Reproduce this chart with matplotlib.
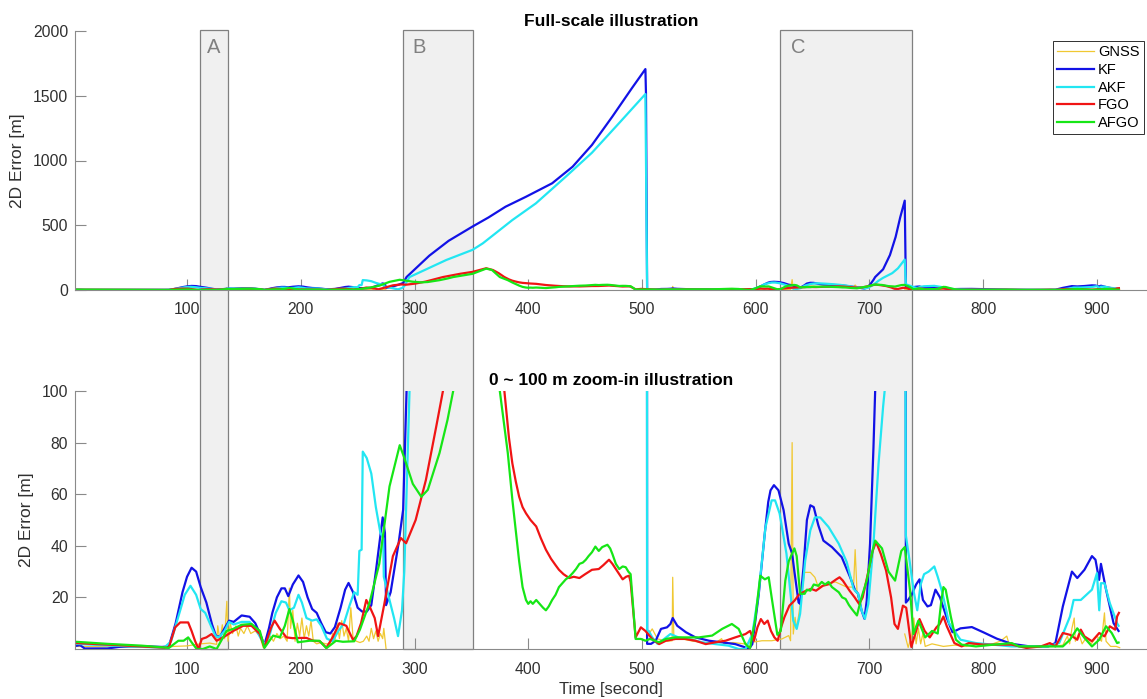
import numpy as np
import matplotlib
matplotlib.use('Agg')
import matplotlib.pyplot as plt
from matplotlib.patches import Rectangle
from matplotlib import transforms

plt.rcParams['font.family'] = ['Liberation Sans', 'DejaVu Sans']

nan = np.nan

# (time [s], 2D error [m])
gnss = [(2, 1), (40, 0.8), (80, 0.6), (88, 1), (100, 1.2), (112, 2), (120, 2.3), (126, 1.8),
        (127, 9), (129, 3), (131, 9.4), (133, 4), (135, 18.5), (136, 3), (138, 10), (140, 6),
        (143, 9), (145, 5), (147, 8), (150, 6), (153, 9), (156, 6), (160, 7), (164, 5),
        (167, 0.5), (170, 3), (173, 5), (176, 3), (179, 6), (182, 4), (185, 5), (188, 3),
        (190, 23.6), (191, 8), (193, 15), (195, 3), (197, 10), (199, 5), (201, 12), (203, 4),
        (205, 9), (207, 5), (209, 11), (211, 3), (214, 2), (218, 2.5), (222, 2), (226, 2),
        (228, 6), (230, 3), (232, 10), (234, 4), (236, 11), (238, 5), (240, 8), (242, 3),
        (244, 16), (246, 4), (249, 3), (252, 2.5), (255, 3), (258, 5), (260, 3), (262, 8),
        (264, 4), (266, 7), (268, 3), (270, 6), (272, 4), (273, 8), (275, 0), (276, nan),
        (504, 5), (506, 5.8), (509, 7.8), (513.6, 3.9), (518, 3.5), (522, 3), (526.5, 3.2),
        (527, 27.8), (528, 3.9), (535.5, 3.9), (545, 3), (555, 2.5), (565, 2.5), (570, 4),
        (572, 2), (580, 2.5), (590, 2), (596.8, 2.6), (605.5, 3.2), (614, 3.2), (623, 3.9),
        (629, 5.2), (630.6, 3.2), (632, 80), (633, 5.8), (634.6, 12.3), (636, 7.8), (640, 20),
        (643, 29.7), (648, 29.7), (652, 27.8), (655, 24), (662, 25), (670, 26), (680, 24),
        (686, 24), (687.4, 38.5), (689, 22.6), (690, 20), (691, nan),
        (731, 5.8), (734, 0.6), (737, 5), (739, 12), (741, 2), (743, 8), (745, 2), (747, 6),
        (749, 1), (755, 2), (765, 1), (775, 1.5), (785, 1), (795, 2), (805, 1.5), (815, 3),
        (820.7, 5), (823, 1.5), (830, 1), (845, 1), (860, 1), (870, 1.5), (874, 5), (876, 2),
        (878, 8), (880, 12), (881, 3), (884, 6), (887, 2), (890, 4), (895, 2), (900, 5),
        (904, 3), (906.6, 14), (908, 3), (912, 1), (917, 1), (920, 0.5)]

kf = [(2, 1.2), (6, 1.5), (10, 0.2), (30, 0.2), (40, 0.8), (50, 1.0), (65, 1.0), (78, 0.8),
      (84, 1.0), (90, 10), (96, 22), (100, 28), (104, 31.5), (108, 30), (112, 24), (117, 18),
      (122, 9.5), (125.5, 5), (129, 4.8), (133, 8), (137, 11), (141, 10.5), (148, 13),
      (155, 12.5), (160, 10), (165, 5), (168, 1.5), (172, 8), (175, 14), (179, 20), (183, 23.5),
      (186, 23.5), (189, 20.5), (193, 25), (198, 28.5), (202, 26), (206, 20), (210, 15.5),
      (214, 14), (218, 10), (222, 6.5), (226, 6), (230, 8.5), (235, 16), (239, 23), (242, 25.6),
      (246, 22), (250, 16), (254, 14.5), (258, 14.5), (262, 17), (266, 30), (272, 51), (274, 45),
      (275, 17), (279, 22), (283, 33), (286, 41), (290, 54), (293, 100), (313, 265), (330, 380),
      (351, 490), (365, 560), (380, 643), (398, 720), (421, 824), (439, 952), (456, 1120),
      (474, 1340), (491, 1557), (503, 1706), (503.5, 1515), (504.5, 2), (508, 2), (512, 3.2),
      (516.7, 7.8), (522, 8.4), (525, 9.7), (527, 12), (531, 9), (538.6, 6.5), (547, 4.5),
      (559, 3.2), (570, 2.6), (582, 1.9), (591, 0.6), (594, 0), (597, 1.9), (602.6, 21),
      (608, 45), (611, 57), (613, 61.5), (616, 63.5), (620, 61.5), (624.5, 53.8), (629, 40.8),
      (632, 37), (634, 30), (637.7, 18), (639, 17.5), (642, 31.7), (645, 50), (648, 55.7),
      (651, 55), (655, 48), (659.5, 42), (667, 39.5), (675.6, 35.6), (683, 27.8), (687.4, 22.7),
      (690, 21.4), (693, 15), (695.6, 11.7), (697.6, 18.8), (700.5, 40.8), (703.5, 78),
      (705, 100), (712, 160), (718, 270), (723, 410), (727, 560), (731, 690), (732, 18),
      (734, 19), (737, 21), (741, 25), (744, 27), (747, 19), (751, 16.5), (754, 17), (758, 23),
      (762, 20), (768, 12), (773, 6.5), (780, 8), (790, 8.5), (800, 6.5), (812, 4), (825, 2),
      (841, 1), (857, 1), (863.5, 2.3), (870, 16.5), (878, 30), (882.7, 27.5), (889, 30.7),
      (895.6, 36), (898.7, 34.6), (901.9, 26.8), (903.5, 33), (908, 23), (914.6, 10), (919, 7)]

akf = [(2, 2), (20, 1.6), (50, 1), (80, 0.5), (86, 3), (92, 12), (98, 21), (103, 24.5),
       (108, 21), (112, 15.5), (116, 14), (120, 10), (125, 5), (128, 4.5), (133, 7), (137, 10.5),
       (141, 9.5), (148, 10.5), (155, 10.5), (160, 8), (165, 4), (169, 1.5), (173, 6), (178, 14),
       (183, 18.5), (187, 18), (190, 15), (194, 16), (198, 21), (201, 18), (205, 12), (210, 11),
       (214, 11.5), (218, 9), (223, 4), (228, 3), (233, 7), (238, 10), (243, 17), (247, 22),
       (250, 21), (251.5, 38), (253.5, 38.5), (254.5, 76.5), (258, 74), (262, 68), (266, 55),
       (270, 45), (272.5, 43), (273, 28), (278, 19), (282, 12), (285.5, 5), (289, 15), (291, 30),
       (295.6, 100), (328, 232), (351, 310), (360, 360), (386, 540), (406.7, 669), (433, 875),
       (456, 1060), (480, 1290), (503, 1513), (504.5, 7), (506, 7), (509, 4.5), (513.6, 2),
       (519.5, 3.9), (525, 5.8), (532, 4.5), (541, 3.9), (553, 2.6), (564.6, 1.9), (576, 1.3),
       (585, 0), (591, 0), (597, 5.8), (602.6, 22), (608.5, 47), (614, 57.6), (617, 57.6),
       (621, 52.5), (627, 37), (630, 24), (633, 11), (636, 7.8), (639, 13.6), (643.5, 34.3),
       (648, 46), (652, 51), (656.7, 51), (664, 47.3), (673, 40.8), (680, 33.7), (686, 23.3),
       (690, 21.4), (693, 15), (696, 11.7), (699, 17.5), (703.5, 40.8), (708, 72), (712, 94),
       (714, 103), (720, 130), (725, 167), (731, 235), (732, 44), (735, 35), (739, 22),
       (742, 15), (745, 25), (748, 29), (752, 30), (757, 32), (760, 28), (764, 22), (770, 10),
       (780, 3.6), (793.6, 2.3), (825, 1), (857, 1), (866.8, 2.3), (876.3, 12.6), (879.5, 19),
       (885.8, 19), (895.6, 23), (900, 29.4), (902, 15), (903.5, 25.5), (906.6, 25.5),
       (911.3, 17.8), (917.7, 10), (919, 9)]

fgo = [(2, 2.3), (30, 1.7), (60, 1.0), (80, 0.5), (84, 0.6), (89.6, 8.4), (94, 10.3),
       (101, 10.3), (104, 7), (107, 3.2), (110, 0), (113, 3.9), (117, 4.5), (121.6, 5.8),
       (126, 3.2), (131.8, 4.5), (140.6, 7), (149.4, 9), (156.7, 9), (164, 5.8), (168, 0.6),
       (174, 8.4), (177, 11), (181.6, 7.8), (187.4, 4.5), (193, 4.2), (199, 4.3), (205, 4.3),
       (211, 3.2), (216.7, 3.0), (222.5, 0.5), (228, 4.5), (234, 10), (240, 9), (246, 3.5),
       (249, 5), (253, 10), (257.6, 19), (261, 16), (265, 12), (268, 5), (273.6, 17.8), (281, 36),
       (288, 43), (292.6, 41), (301, 50), (310, 65.5), (319, 86), (325, 100), (340, 125),
       (351, 140), (363, 168), (369, 154), (374, 130), (379, 100), (383, 82), (386, 72),
       (389, 65), (392, 59), (395, 55), (398, 52.6), (402, 50), (407, 47.5), (411, 43),
       (415.5, 38.5), (420, 35), (424, 32.5), (427, 30.7), (431, 29), (436, 27.5), (440, 28),
       (445, 27.5), (450, 29), (456, 30.7), (462, 31), (466, 32.5), (471, 34.6), (474, 33),
       (477, 31), (480, 29), (483, 27), (486, 28), (488.6, 28.4), (490, 26), (494.4, 4.5),
       (499, 8.4), (503, 7), (509, 3.9), (515, 1.9), (521, 3.2), (529.5, 3.9), (538, 3.9),
       (547, 3.2), (556, 1.9), (564.6, 2.6), (573.4, 3.2), (582, 4.5), (591, 5.8), (595, 7),
       (598.5, 3.2), (601.5, 8.4), (604.5, 11.6), (607.5, 9.7), (610.5, 11), (613.4, 7),
       (616.4, 4.5), (619.3, 3.2), (622.3, 8.4), (625.2, 12.3), (629.6, 16.8), (634, 18.7),
       (638.4, 21.3), (644.3, 22.6), (648.7, 23.3), (653, 22.6), (659, 24.5), (665, 25.2),
       (670.8, 27), (673.7, 27.8), (676.6, 26.5), (682.5, 22.6), (687, 20), (691, 17.4),
       (694, 20), (698.5, 29), (702.8, 38), (705.8, 41.5), (710, 36.8), (714.6, 30.4), (719, 20),
       (722, 9.7), (725, 7.8), (729.4, 16.8), (732.3, 16), (735.3, 5.8), (736.8, 0.8), (741, 7),
       (744, 11.6), (748.5, 7), (753, 4.5), (758.9, 8.4), (761.8, 9.7), (765, 12.6), (768, 8.8),
       (774.6, 2.3), (781, 1), (787.3, 2.3), (800, 1.7), (825, 1.7), (838, 0.4), (850.7, 1),
       (858.6, 2.3), (863.5, 1), (870, 6.2), (876.3, 5.5), (882.7, 3.6), (885.8, 7.5), (889, 4.9),
       (895.6, 3), (902, 6.2), (906.6, 4.9), (911.3, 8.8), (916, 7.5), (917.7, 12.6), (919.3, 14)]

afgo = [(2, 2.8), (30, 2), (60, 1.3), (80, 0.6), (84, 0.4), (92.4, 3.2), (97, 3.2), (101, 4.5),
        (104, 2.6), (108.5, 0), (114, 0), (120, 1), (126, 0), (130, 3.2), (134.8, 7),
        (140.6, 7.8), (148, 9.4), (156.7, 9.7), (164, 7), (168, 0.4), (175.7, 5.2), (181.6, 4.5),
        (186, 9), (190, 15.5), (193, 11), (197.4, 2.6), (207.6, 3.2), (216.4, 3.2), (222.5, 0.3),
        (231, 3.2), (237, 2.8), (247, 3), (252, 7.5), (260.5, 18), (269, 33), (278, 63), (287, 79),
        (290.6, 74.6), (298.5, 64), (306, 59), (311.7, 61.7), (322, 76), (329, 88.8), (334, 100),
        (351, 125), (363, 165), (368, 155), (375, 100), (382, 76), (386, 58), (389, 46), (392, 34),
        (395, 24), (398, 19), (400, 17.5), (402, 18.5), (404, 17.5), (407, 19), (409, 18),
        (411, 17), (413, 16), (415.5, 15), (418, 16.5), (421, 19), (424, 21), (427, 24),
        (430, 25.5), (433, 27), (436, 28), (439, 29.4), (442, 31), (445, 33), (448, 33.5),
        (450.6, 34.6), (453, 36), (456, 37.5), (459, 39.7), (462, 38), (465, 39.5), (469.6, 40.4),
        (472, 39), (474, 36.8), (477, 33), (480, 31), (483, 32), (485.7, 31.7), (488, 30),
        (490, 29), (494.4, 3.9), (499, 3.9), (503, 3.2), (507, 3.9), (515, 2.6), (521, 3.9),
        (529.5, 4.5), (541, 4.5), (550, 4.5), (561.7, 5.2), (570.5, 7.8), (579, 9.7), (585, 7.8),
        (591, 1.9), (595, 0.3), (599.4, 11), (604, 28.4), (608, 27), (611.4, 27.8), (614, 20),
        (619, 5.5), (622, 7), (626, 26.5), (629, 34), (634, 39), (636, 36), (639, 21.4),
        (643, 21.4), (645, 23), (648, 22.6), (651, 25), (655, 24.5), (658, 26), (661, 25),
        (664, 26), (667, 24), (670, 23), (673, 22), (676, 20), (679, 19.4), (682, 17),
        (684.5, 15.5), (689, 13), (693, 20), (697.6, 26.5), (702, 36.8), (705, 42), (711, 39),
        (716.7, 30), (722.5, 26.5), (728, 38), (731, 39.5), (735.7, 22.6), (738.6, 5.8),
        (743, 11), (749, 4.5), (755, 7), (760, 6), (763, 18), (765, 24), (767, 23),
        (771.5, 12.6), (776, 3.6), (781, 1.7), (793.6, 1), (809.5, 1.7), (825, 2.3), (831.6, 1),
        (857, 1), (870, 1), (876.3, 3.6), (882.7, 8), (889, 4.3), (895.6, 1), (902, 3.6),
        (908, 8.8), (913, 6.2), (917.7, 2.3), (919, 2.5)]

series = [gnss, kf, akf, fgo, afgo]
series_names = ['GNSS', 'KF', 'AKF', 'FGO', 'AFGO']

regions = ['A', 'B', 'C']
region_start = [111.4, 290.2, 621.0]
region_end = [136.3, 351.8, 737.4]

x_ticks = [100, 200, 300, 400, 500, 600, 700, 800, 900]
top_yticks = [0, 500, 1000, 1500, 2000]
bottom_yticks = [20, 40, 60, 80, 100]

# styles
colors = ['#F0C832', '#1212E6', '#22E6F2', '#F01414', '#16E616']
widths = [0.9, 1.6, 1.6, 1.6, 1.6]
axis_grey = '#8a8a8a'
text_dark = '#303030'

W, H = 1147, 699
fig = plt.figure(figsize=(W / 100, H / 100), dpi=100)
ax_top = fig.add_axes([75 / W, 1 - 290 / H, 1072 / W, 259 / H])
ax_bot = fig.add_axes([75 / W, 1 - 649 / H, 1072 / W, 258 / H])

for ax in (ax_top, ax_bot):
    ax.set_facecolor('none')
    for name, pts, c, lw in zip(series_names, series, colors, widths):
        t, v = zip(*pts)
        ax.plot(t, v, color=c, lw=lw, label=name)
    ax.set_xlim(1.5, 944)
    ax.set_xticks(x_ticks)
    for s in ('top', 'right'):
        ax.spines[s].set_visible(False)
    for s in ('left', 'bottom'):
        ax.spines[s].set_color(axis_grey)
        ax.spines[s].set_linewidth(0.8)
    ax.tick_params(direction='in', length=7.7, width=0.8, color=axis_grey,
                   labelcolor=text_dark, labelsize=11.3)
    ax.tick_params(axis='x', pad=9)
    ax.tick_params(axis='y', pad=4.8)
    ax.set_ylabel('2D Error [m]', fontsize=12.5, color=text_dark, labelpad=5.5)

ax_top.set_ylim(0, 2000)
ax_top.set_yticks(top_yticks)
ax_bot.set_ylim(0, 100)
ax_bot.set_yticks(bottom_yticks)

ax_top.set_title('Full-scale illustration', fontsize=12.5, fontweight='bold', pad=3.6)
ax_bot.set_title('0 ~ 100 m zoom-in illustration', fontsize=12.5, fontweight='bold', pad=4.3)
ax_bot.set_xlabel('Time [second]', fontsize=12, color=text_dark, labelpad=4.3)

# shaded regions running through both panels
blend = transforms.blended_transform_factory(ax_top.transData, fig.transFigure)
y_low = 1 - 649 / H
y_high = 1 - 29.5 / H
label_pad = [6, 7.5, 10]
for name, x0, x1, dx in zip(regions, region_start, region_end, label_pad):
    rect = Rectangle((x0, y_low), x1 - x0, y_high - y_low, transform=blend,
                     facecolor='#F0F0F0', edgecolor='#808080', lw=0.9, zorder=-1)
    fig.add_artist(rect)
    fig.text(x0 + dx, 1 - 38 / H, name, transform=blend, fontsize=14.5,
             color='#808080', ha='left', va='top')

leg = ax_top.legend(loc='upper right', bbox_to_anchor=(1144 / W, 1 - 41 / H),
                    bbox_transform=fig.transFigure, fontsize=10.5, fancybox=False,
                    framealpha=1, edgecolor=text_dark, borderpad=0.3, labelspacing=0.25,
                    handlelength=2.5, handletextpad=0.3, borderaxespad=0)
leg.get_frame().set_linewidth(0.7)

fig.savefig('out.png', dpi=100)
